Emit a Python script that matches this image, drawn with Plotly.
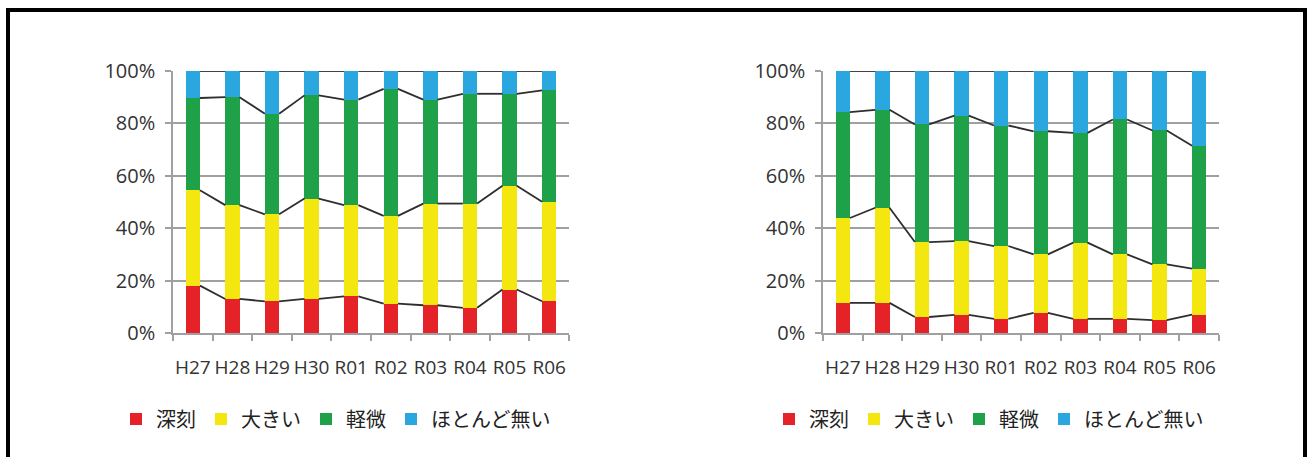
import plotly.graph_objects as go

years = ["H27", "H28", "H29", "H30", "R01", "R02", "R03", "R04", "R05", "R06"]
pct_ticks = [0, 20, 40, 60, 80, 100]
series_names = ["深刻", "大きい", "軽微", "ほとんど無い"]
series_colors = ["#e52228", "#f4e70f", "#1ea149", "#29a7de"]

# 左のグラフ (%)
left_serious = [18.1, 13.0, 12.1, 13.0, 14.0, 11.2, 10.6, 9.6, 16.6, 12.1]
left_large = [36.4, 35.8, 33.2, 38.3, 34.8, 33.5, 38.8, 39.8, 39.6, 38.0]
left_slight = [35.2, 41.2, 38.4, 39.4, 40.3, 48.5, 39.7, 41.9, 35.1, 42.5]
left_none = [10.3, 10.0, 16.3, 9.3, 10.9, 6.8, 10.9, 8.7, 8.7, 7.4]

# 右のグラフ (%)
right_serious = [11.5, 11.5, 6.1, 6.9, 5.4, 7.7, 5.4, 5.4, 4.9, 7.0]
right_large = [32.4, 36.3, 28.6, 28.2, 27.8, 22.3, 29.1, 24.6, 21.3, 17.6]
right_slight = [40.4, 37.4, 44.9, 47.9, 46.0, 47.0, 41.9, 51.5, 51.1, 46.9]
right_none = [15.7, 14.8, 20.4, 17.0, 20.8, 23.0, 23.6, 18.5, 22.7, 28.5]

W, H = 1311, 457
BAR_W = 0.36
AXIS_GRAY = "#a0a0a0"
FONT_FAMILY = "Open Sans, Noto Sans CJK JP"


def px_x(p):
    return p / W


def px_y(p):
    return 1 - p / H


def add_panel(fig, xref, yref, legend, values):
    idx = list(range(len(years)))
    for name, color, vals in zip(series_names, series_colors, values):
        fig.add_trace(
            go.Bar(
                x=idx,
                y=vals,
                name=name,
                width=BAR_W,
                marker=dict(color=color, line=dict(width=0)),
                xaxis=xref,
                yaxis=yref,
                legend=legend,
            )
        )
    # 区分線 (棒の間をつなぐ線)
    cum = [0.0] * len(years)
    for vals in values:
        cum = [c + v for c, v in zip(cum, vals)]
        xs, ys = [], []
        for i in range(len(years) - 1):
            xs += [i + BAR_W / 2, i + 1 - BAR_W / 2, None]
            ys += [cum[i], cum[i + 1], None]
        fig.add_trace(
            go.Scatter(
                x=xs,
                y=ys,
                mode="lines",
                line=dict(color="#2e2e2e", width=1.8),
                showlegend=False,
                hoverinfo="skip",
                xaxis=xref,
                yaxis=yref,
            )
        )


fig = go.Figure()
add_panel(fig, "x", "y", "legend", [left_serious, left_large, left_slight, left_none])
add_panel(fig, "x2", "y2", "legend2", [right_serious, right_large, right_slight, right_none])


def x_axis(domain, anchor):
    return dict(
        domain=domain,
        anchor=anchor,
        range=[-0.5, len(years) - 0.5],
        tickmode="array",
        tickvals=list(range(len(years))),
        ticktext=years,
        tickangle=0,
        ticks="",
        ticklabelstandoff=16,
        showline=True,
        linecolor=AXIS_GRAY,
        linewidth=1.5,
        showgrid=False,
        zeroline=False,
        automargin=False,
        tickfont=dict(family=FONT_FAMILY, size=19, color="#333333"),
        minor=dict(
            tickmode="array",
            tickvals=[i - 0.5 for i in range(len(years) + 1)],
            ticks="outside",
            ticklen=6,
            tickwidth=1.5,
            tickcolor=AXIS_GRAY,
        ),
    )


def y_axis(anchor):
    return dict(
        domain=[px_y(333), px_y(71)],
        anchor=anchor,
        range=[0, 100],
        tickmode="array",
        tickvals=pct_ticks,
        ticktext=[f"{v}%" for v in pct_ticks],
        ticks="outside",
        ticklen=6,
        tickwidth=1.5,
        tickcolor=AXIS_GRAY,
        ticklabelstandoff=6,
        showline=True,
        linecolor=AXIS_GRAY,
        linewidth=1.5,
        showgrid=True,
        gridcolor=AXIS_GRAY,
        gridwidth=1.5,
        zeroline=False,
        automargin=False,
        tickfont=dict(family=FONT_FAMILY, size=20, color="#333333"),
    )


legend_style = dict(
    orientation="h",
    yanchor="middle",
    xanchor="left",
    traceorder="normal",
    bgcolor="rgba(0,0,0,0)",
    font=dict(family="Noto Sans CJK JP", size=20, color="#222222"),
    itemwidth=30,
)

fig.update_layout(
    width=W,
    height=H,
    margin=dict(l=0, r=0, t=0, b=0),
    paper_bgcolor="white",
    plot_bgcolor="white",
    barmode="stack",
    xaxis=x_axis([px_x(173), px_x(569)], "y"),
    yaxis=y_axis("x"),
    xaxis2=x_axis([px_x(823), px_x(1219)], "y2"),
    yaxis2=y_axis("x2"),
    legend=dict(x=px_x(116), y=px_y(419), **legend_style),
    legend2=dict(x=px_x(769), y=px_y(419), **legend_style),
    shapes=[
        dict(
            type="rect",
            xref="paper",
            yref="paper",
            x0=px_x(8),
            x1=px_x(1305),
            y0=px_y(480),
            y1=px_y(10),
            line=dict(color="black", width=4),
        )
    ],
)

# ページの余白をなくして図を左上に合わせる
fig.write_html(
    "out.html",
    config={"displayModeBar": False},
    post_script="document.body.style.margin = '0';",
)
